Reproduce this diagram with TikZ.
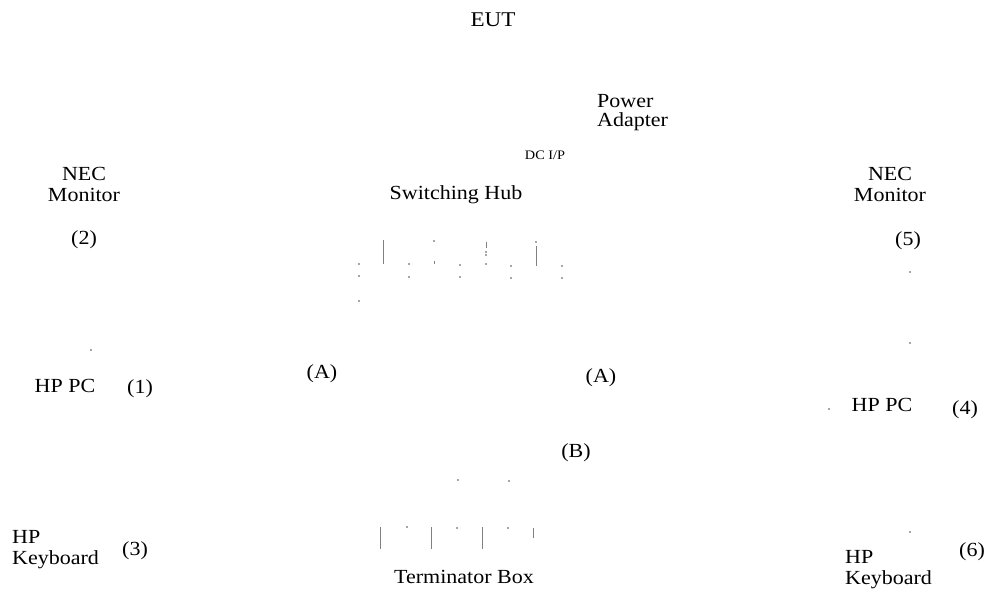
\documentclass[tikz,border=0pt]{standalone}
\usepackage{fontspec}
\setmainfont{Liberation Serif}[FakeStretch=1.1]
\begin{document}
\begin{tikzpicture}[x=1pt,y=-1pt,
  lbl/.style={inner sep=0pt,font=\fontsize{20}{21}\selectfont,align=center},
  lbll/.style={lbl,align=left,anchor=west},
  small/.style={inner sep=0pt,font=\fontsize{13}{14}\selectfont},
  frag/.style={draw=black!50,line width=0.8pt},
  speck/.style={fill=black!35}]
\useasboundingbox (0,0) rectangle (990,595);
% texts
\node[lbl,font=\fontsize{21}{22}\selectfont] (eut) at (493,20) {EUT};
\node[lbll,font=\fontsize{20}{19}\selectfont] (pwr) at (597,113) {Power\\Adapter};
\node[small] (dcip) at (545,155) {DC I/P};
\node[lbl] (hub) at (456,195) {Switching Hub};
\node[lbl] (mon2) at (84,184) {NEC\\Monitor};
\node[lbl] (n2) at (84,240) {(2)};
\node[lbl] (pc1) at (65,386) {HP PC};
\node[lbl] (n1) at (140,389) {(1)};
\node[lbll] (kb3) at (12,550) {HP\\Keyboard};
\node[lbl] (n3) at (135,551) {(3)};
\node[lbl] (a1) at (322,374) {(A)};
\node[lbl] (a2) at (601,378) {(A)};
\node[lbl] (b1) at (576,453) {(B)};
\node[lbl] (term) at (464,577) {Terminator Box};
\node[lbl] (mon5) at (890,184) {NEC\\Monitor};
\node[lbl] (n5) at (908,241) {(5)};
\node[lbl] (pc4) at (882,405) {HP PC};
\node[lbl] (n4) at (965,410) {(4)};
\node[lbll] (kb6) at (845,570) {HP\\Keyboard};
\node[lbl] (n6) at (972,552) {(6)};
% hub port fragments
\draw[frag] (383,240) -- (383,264);
\draw[frag] (434,261) -- (434,264);
\fill[speck] (433.2,240.2) rectangle (434.8,241.8);
\draw[frag] (486,242) -- (486,248);
\fill[speck] (485.2,251.2) rectangle (486.8,252.8);
\fill[speck] (485.2,254.2) rectangle (486.8,255.8);
\fill[speck] (485.2,263.2) rectangle (486.8,264.8);
\fill[speck] (535.2,241.2) rectangle (536.8,242.8);
\draw[frag] (536,246) -- (536,266);
\foreach \x/\y in {359/264,359/276,359/301,409/264,409/277,460/265,460/277,511/266,511/278,562/266,562/278}
  \fill[speck] (\x-0.7,\y-0.7) rectangle (\x+0.7,\y+0.7);
% terminator fragments
\draw[frag] (380,527) -- (380,549);
\draw[frag] (431,527) -- (431,549);
\draw[frag] (482,527) -- (482,549);
\draw[frag] (533,528) -- (533,538);
\foreach \x/\y in {407/527,457/528,508/528,458/480,509/481,91/350,910/272,910/343,829/409,910/532}
  \fill[speck] (\x-0.7,\y-0.7) rectangle (\x+0.7,\y+0.7);
\end{tikzpicture}
\end{document}
